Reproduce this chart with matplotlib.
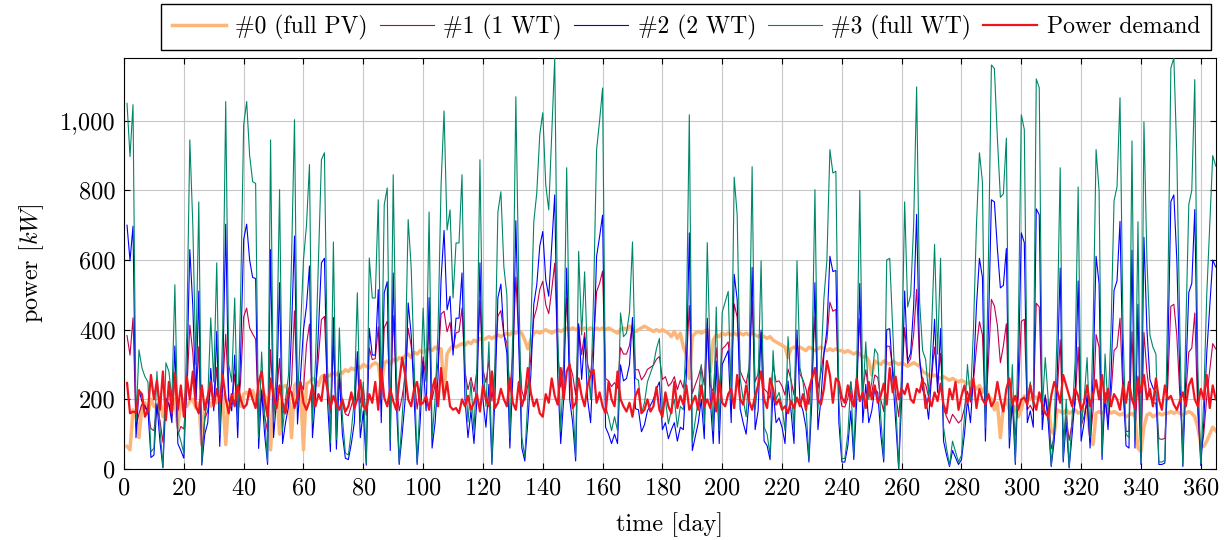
import numpy as np
import matplotlib
matplotlib.use('Agg')
import matplotlib.pyplot as plt
from matplotlib.ticker import FuncFormatter, MultipleLocator

plt.rcParams['font.family'] = ['cmr10', 'DejaVu Serif']
plt.rcParams['mathtext.fontset'] = 'cm'
plt.rcParams['axes.formatter.use_mathtext'] = True

# daily values, day 1..365
pv = [65, 55, 170, 150, 90, 180, 190, 160, 200, 180,
      175, 200, 150, 190, 185, 170, 200, 120, 190, 200,
      180, 195, 200, 175, 190, 70, 185, 200, 180, 200,
      190, 200, 210, 70, 200, 200, 215, 210, 180, 215,
      220, 210, 225, 200, 215, 230, 210, 200, 55, 225,
      230, 100, 235, 240, 225, 90, 240, 250, 230, 55,
      245, 250, 260, 255, 240, 265, 270, 265, 270, 275,
      270, 280, 275, 285, 280, 290, 285, 295, 290, 300,
      295, 290, 300, 305, 300, 240, 305, 310, 300, 315,
      310, 320, 315, 325, 330, 320, 335, 330, 340, 335,
      340, 345, 340, 350, 345, 345, 220, 330, 345, 355,
      350, 355, 360, 355, 365, 360, 370, 365, 375, 370,
      375, 380, 375, 380, 385, 380, 385, 390, 385, 395,
      390, 395, 390, 370, 345, 370, 390, 395, 390, 395,
      400, 395, 390, 395, 400, 395, 400, 405, 400, 405,
      400, 405, 400, 405, 400, 405, 400, 405, 400, 405,
      400, 405, 400, 395, 390, 400, 405, 400, 410, 400,
      395, 400, 405, 410, 405, 400, 395, 400, 395, 400,
      395, 390, 380, 395, 375, 390, 350, 330, 260, 380,
      390, 395, 390, 395, 400, 280, 370, 385, 380, 390,
      385, 390, 385, 390, 385, 390, 385, 390, 385, 390,
      385, 380, 385, 380, 375, 380, 370, 365, 360, 355,
      350, 320, 345, 350, 345, 350, 345, 340, 350, 345,
      340, 345, 350, 345, 340, 345, 340, 345, 340, 340,
      335, 340, 335, 330, 335, 330, 320, 325, 310, 270,
      310, 305, 300, 310, 305, 300, 310, 305, 300, 305,
      300, 295, 300, 305, 300, 295, 280, 275, 270, 265,
      270, 265, 260, 265, 260, 255, 260, 255, 250, 255,
      250, 245, 250, 240, 230, 240, 220, 235, 210, 200,
      170, 190, 90, 180, 200, 170, 160, 180, 150, 170,
      210, 205, 200, 210, 205, 200, 195, 200, 190, 110,
      100, 170, 165, 160, 170, 160, 165, 170, 160, 165,
      170, 160, 100, 70, 160, 165, 160, 165, 170, 160,
      165, 160, 155, 160, 150, 155, 160, 150, 60, 50,
      120, 155, 160, 150, 155, 160, 155, 160, 160, 165,
      160, 165, 160, 155, 160, 165, 160, 150, 120, 70,
      65, 80, 100, 120, 110]

wt1 = [383, 327, 434, 120, 159, 187, 183, 163, 116, 110,
       181, 140, 77, 197, 186, 152, 276, 97, 122, 115,
       223, 413, 333, 188, 351, 41, 143, 167, 235, 183,
       292, 133, 238, 387, 200, 183, 272, 150, 257, 437,
       462, 405, 388, 373, 138, 227, 155, 107, 343, 158,
       215, 317, 155, 187, 203, 245, 454, 189, 248, 228,
       356, 416, 175, 230, 320, 429, 438, 233, 160, 355,
       163, 275, 188, 158, 153, 182, 210, 317, 190, 233,
       154, 347, 314, 317, 408, 187, 406, 424, 177, 440,
       255, 167, 208, 263, 404, 353, 268, 172, 237, 322,
       253, 419, 200, 242, 306, 445, 453, 394, 421, 342,
       391, 394, 462, 278, 228, 263, 222, 283, 484, 285,
       248, 312, 195, 290, 439, 455, 386, 362, 223, 331,
       551, 371, 225, 197, 240, 318, 432, 462, 515, 539,
       472, 446, 515, 591, 333, 235, 300, 491, 300, 270,
       212, 411, 328, 392, 300, 270, 367, 509, 533, 568,
       260, 253, 237, 248, 232, 349, 330, 330, 355, 417,
       285, 285, 256, 268, 286, 292, 298, 315, 323, 257,
       265, 238, 247, 265, 228, 255, 232, 298, 469, 217,
       242, 265, 295, 241, 417, 240, 222, 348, 227, 345,
       353, 365, 260, 474, 436, 282, 260, 245, 293, 484,
       250, 273, 392, 230, 221, 203, 298, 250, 253, 238,
       212, 287, 256, 212, 372, 272, 256, 230, 185, 273,
       437, 230, 275, 336, 370, 479, 453, 458, 237, 180,
       178, 203, 251, 178, 268, 432, 227, 285, 222, 218,
       270, 263, 200, 165, 353, 352, 288, 220, 150, 253,
       406, 303, 317, 386, 516, 308, 253, 243, 207, 266,
       350, 243, 332, 173, 150, 131, 157, 145, 132, 141,
       175, 223, 192, 253, 348, 423, 385, 158, 305, 487,
       468, 412, 305, 353, 417, 115, 180, 97, 208, 424,
       430, 170, 183, 165, 476, 465, 155, 207, 162, 58,
       90, 218, 371, 90, 152, 82, 133, 188, 350, 123,
       152, 187, 80, 168, 386, 350, 93, 193, 142, 213,
       340, 350, 433, 213, 108, 108, 394, 105, 267, 32,
       392, 278, 208, 192, 188, 87, 85, 88, 247, 467,
       473, 383, 213, 81, 213, 336, 347, 448, 160, 40,
       100, 207, 283, 360, 345]

wt2 = [700, 598, 697, 90, 228, 193, 177, 167, 33, 40,
       187, 80, 3, 203, 187, 133, 353, 73, 53, 31,
       267, 630, 467, 200, 511, 11, 100, 133, 289, 167,
       395, 65, 267, 703, 200, 167, 327, 90, 333, 659,
       703, 600, 550, 547, 59, 224, 100, 13, 630, 90,
       200, 535, 73, 133, 180, 400, 669, 129, 267, 400,
       467, 583, 90, 205, 400, 592, 605, 200, 50, 435,
       57, 270, 100, 31, 27, 73, 133, 337, 90, 167,
       11, 404, 327, 327, 515, 133, 506, 538, 53, 563,
       200, 13, 100, 200, 477, 387, 200, 13, 133, 308,
       167, 492, 60, 133, 267, 544, 685, 457, 496, 327,
       433, 433, 563, 200, 90, 167, 73, 200, 592, 200,
       120, 243, 13, 200, 492, 531, 387, 333, 60, 267,
       713, 347, 60, 23, 133, 267, 473, 529, 640, 682,
       544, 496, 640, 787, 267, 73, 200, 577, 200, 133,
       23, 417, 257, 377, 200, 133, 333, 611, 667, 729,
       120, 100, 73, 100, 73, 299, 253, 260, 300, 435,
       173, 170, 107, 127, 167, 183, 200, 230, 250, 113,
       133, 87, 113, 133, 80, 120, 113, 267, 678, 53,
       93, 133, 200, 87, 433, 200, 73, 310, 73, 300,
       320, 340, 133, 559, 487, 173, 133, 100, 200, 579,
       113, 167, 399, 80, 67, 27, 227, 133, 147, 120,
       73, 253, 167, 73, 399, 193, 167, 120, 20, 200,
       535, 113, 200, 327, 400, 611, 567, 570, 133, 20,
       20, 67, 167, 27, 200, 533, 133, 243, 133, 167,
       230, 220, 100, 20, 400, 403, 267, 133, 0, 200,
       511, 310, 333, 467, 731, 320, 227, 210, 143, 267,
       430, 220, 403, 80, 40, 7, 53, 33, 13, 27,
       100, 200, 133, 267, 467, 605, 550, 80, 400, 773,
       767, 633, 520, 527, 633, 60, 200, 13, 267, 678,
       650, 133, 167, 120, 747, 730, 113, 213, 133, 7,
       80, 267, 577, 20, 133, 3, 100, 207, 540, 80,
       133, 213, 60, 267, 611, 533, 27, 220, 113, 267,
       513, 540, 711, 267, 67, 60, 628, 60, 473, 13,
       665, 400, 257, 233, 220, 13, 13, 17, 333, 768,
       787, 600, 267, 7, 267, 507, 533, 745, 200, 10,
       133, 333, 467, 600, 580]

wt3 = [1050, 897, 1046, 135, 342, 290, 265, 250, 49, 60,
       280, 120, 5, 305, 280, 200, 529, 110, 80, 46,
       400, 945, 700, 300, 767, 17, 150, 200, 434, 250,
       592, 98, 400, 1055, 300, 250, 491, 135, 500, 988,
       1055, 900, 825, 820, 89, 336, 150, 20, 945, 135,
       300, 802, 110, 200, 270, 600, 1003, 193, 400, 600,
       700, 874, 135, 307, 600, 888, 908, 300, 75, 652,
       85, 405, 150, 46, 40, 110, 200, 506, 135, 250,
       17, 606, 491, 491, 773, 200, 759, 807, 80, 845,
       300, 20, 150, 300, 716, 580, 300, 20, 200, 462,
       250, 738, 90, 200, 400, 816, 1028, 686, 744, 491,
       649, 649, 845, 300, 135, 250, 110, 300, 888, 300,
       180, 365, 20, 300, 738, 796, 580, 500, 90, 400,
       1069, 520, 90, 35, 200, 400, 710, 793, 960, 1023,
       816, 744, 960, 1180, 400, 110, 300, 865, 300, 200,
       35, 625, 385, 566, 300, 200, 500, 917, 1000, 1094,
       180, 150, 110, 150, 110, 448, 380, 390, 450, 652,
       260, 255, 160, 190, 250, 275, 300, 345, 375, 170,
       200, 130, 170, 200, 120, 180, 170, 400, 1017, 80,
       140, 200, 300, 130, 650, 300, 110, 465, 110, 450,
       480, 510, 200, 838, 730, 260, 200, 150, 300, 868,
       170, 250, 598, 120, 100, 40, 340, 200, 220, 180,
       110, 380, 250, 110, 598, 290, 250, 180, 30, 300,
       802, 170, 300, 490, 600, 917, 850, 855, 200, 30,
       30, 100, 250, 40, 300, 800, 200, 365, 200, 250,
       345, 330, 150, 30, 600, 605, 400, 200, 0, 300,
       767, 465, 500, 700, 1097, 480, 340, 315, 215, 400,
       645, 330, 605, 120, 60, 10, 80, 50, 20, 40,
       150, 300, 200, 400, 700, 908, 825, 120, 600, 1160,
       1150, 950, 780, 790, 950, 90, 300, 20, 400, 1017,
       975, 200, 250, 180, 1120, 1095, 170, 320, 200, 10,
       120, 400, 865, 30, 200, 5, 150, 310, 810, 120,
       200, 320, 90, 400, 917, 800, 40, 330, 170, 400,
       770, 810, 1066, 400, 100, 90, 942, 90, 710, 20,
       997, 600, 385, 350, 330, 20, 20, 25, 500, 1152,
       1180, 900, 400, 10, 400, 760, 800, 1118, 300, 15,
       200, 500, 700, 900, 870]

demand = [247, 160, 165, 162, 225, 215, 150, 170, 270, 200,
          255, 170, 280, 140, 250, 160, 275, 170, 240, 150,
          265, 200, 280, 180, 160, 240, 170, 210, 250, 180,
          230, 190, 270, 200, 160, 215, 180, 240, 200, 175,
          185, 230, 200, 175, 250, 280, 200, 150, 260, 210,
          175, 240, 190, 160, 230, 220, 175, 210, 250, 190,
          170, 195, 240, 180, 215, 195, 270, 230, 175, 210,
          185, 170, 200, 165, 180, 220, 175, 200, 255, 180,
          170, 215, 190, 250, 170, 290, 205, 180, 230, 195,
          170, 250, 320, 270, 200, 180, 230, 250, 185, 190,
          210, 170, 230, 260, 180, 290, 200, 250, 180, 170,
          175, 160, 200, 180, 210, 170, 190, 215, 165, 240,
          200, 180, 280, 175, 190, 230, 200, 180, 260, 190,
          170, 250, 180, 210, 290, 220, 180, 200, 160, 150,
          215, 190, 260, 210, 185, 290, 200, 280, 300, 175,
          190, 260, 210, 180, 240, 270, 285, 190, 220, 180,
          160, 250, 200, 180, 280, 200, 180, 165, 190, 150,
          210, 230, 160, 170, 200, 165, 180, 235, 170, 150,
          220, 180, 160, 250, 175, 210, 185, 240, 170, 190,
          210, 170, 240, 180, 200, 175, 220, 165, 250, 190,
          180, 215, 230, 175, 270, 200, 185, 240, 195, 170,
          210, 240, 280, 200, 175, 260, 230, 185, 200, 170,
          180, 160, 195, 175, 205, 180, 215, 170, 230, 260,
          290, 200, 185, 230, 310, 270, 190, 260, 250, 205,
          190, 240, 200, 180, 260, 195, 220, 175, 250, 200,
          240, 190, 210, 245, 185, 290, 220, 265, 200, 230,
          215, 245, 200, 190, 230, 220, 260, 175, 205, 180,
          220, 195, 245, 185, 160, 230, 200, 250, 170, 210,
          240, 190, 220, 260, 175, 230, 200, 185, 215, 180,
          195, 250, 200, 165, 230, 260, 185, 210, 170, 200,
          205, 185, 240, 195, 170, 220, 185, 160, 150, 210,
          250, 225, 190, 270, 240, 210, 180, 230, 210, 170,
          190, 240, 180, 215, 255, 200, 270, 190, 230, 180,
          215, 200, 170, 240, 190, 250, 200, 175, 260, 220,
          270, 200, 230, 180, 260, 200, 170, 240, 200, 210,
          185, 170, 195, 220, 180, 240, 260, 200, 180, 230,
          200, 270, 175, 240, 200]

days = np.arange(1, len(wt3) + 1)

fig = plt.figure(figsize=(12.28, 5.40), dpi=100)
ax = fig.add_axes([0.101, 0.1315, 0.889, 0.761])

ax.plot(days, pv, color='#fdb67a', lw=2.5, label='#0 (full PV)', zorder=2)
ax.plot(days, wt1, color='#c4004e', lw=0.8, label='#1 (1 WT)', zorder=3)
ax.plot(days, wt2, color='#0000ff', lw=0.8, label='#2 (2 WT)', zorder=4)
ax.plot(days, wt3, color='#00876a', lw=0.8, label='#3 (full WT)', zorder=5)
ax.plot(days, demand, color='#f0141e', lw=1.6, label='Power demand', zorder=6)

ax.set_xlim(0, 365)
ax.set_ylim(0, 1180)
ax.xaxis.set_major_locator(MultipleLocator(20))
ax.yaxis.set_major_locator(MultipleLocator(200))
ax.yaxis.set_major_formatter(FuncFormatter(lambda v, p: '{:,.0f}'.format(v)))
ax.grid(True, color='#c8c8c8', lw=0.8)
ax.set_axisbelow(True)
ax.tick_params(direction='in', top=True, right=True, labelsize=17.5, length=4, pad=6)
for s in ax.spines.values():
    s.set_linewidth(0.8)

ax.set_xlabel('time [day]', fontsize=17.5, labelpad=9)
ax.set_ylabel('power [$kW$]', fontsize=17.5, labelpad=10)

fig.legend(loc='upper right', bbox_to_anchor=(1211 / 1228, 1 - 4 / 540), ncol=5,
           fontsize=17, frameon=True, fancybox=False, edgecolor='black',
           framealpha=1, handlelength=2.3, handletextpad=0.4, columnspacing=0.5,
           borderpad=0.45, borderaxespad=0)

fig.savefig('out.png', dpi=100)
